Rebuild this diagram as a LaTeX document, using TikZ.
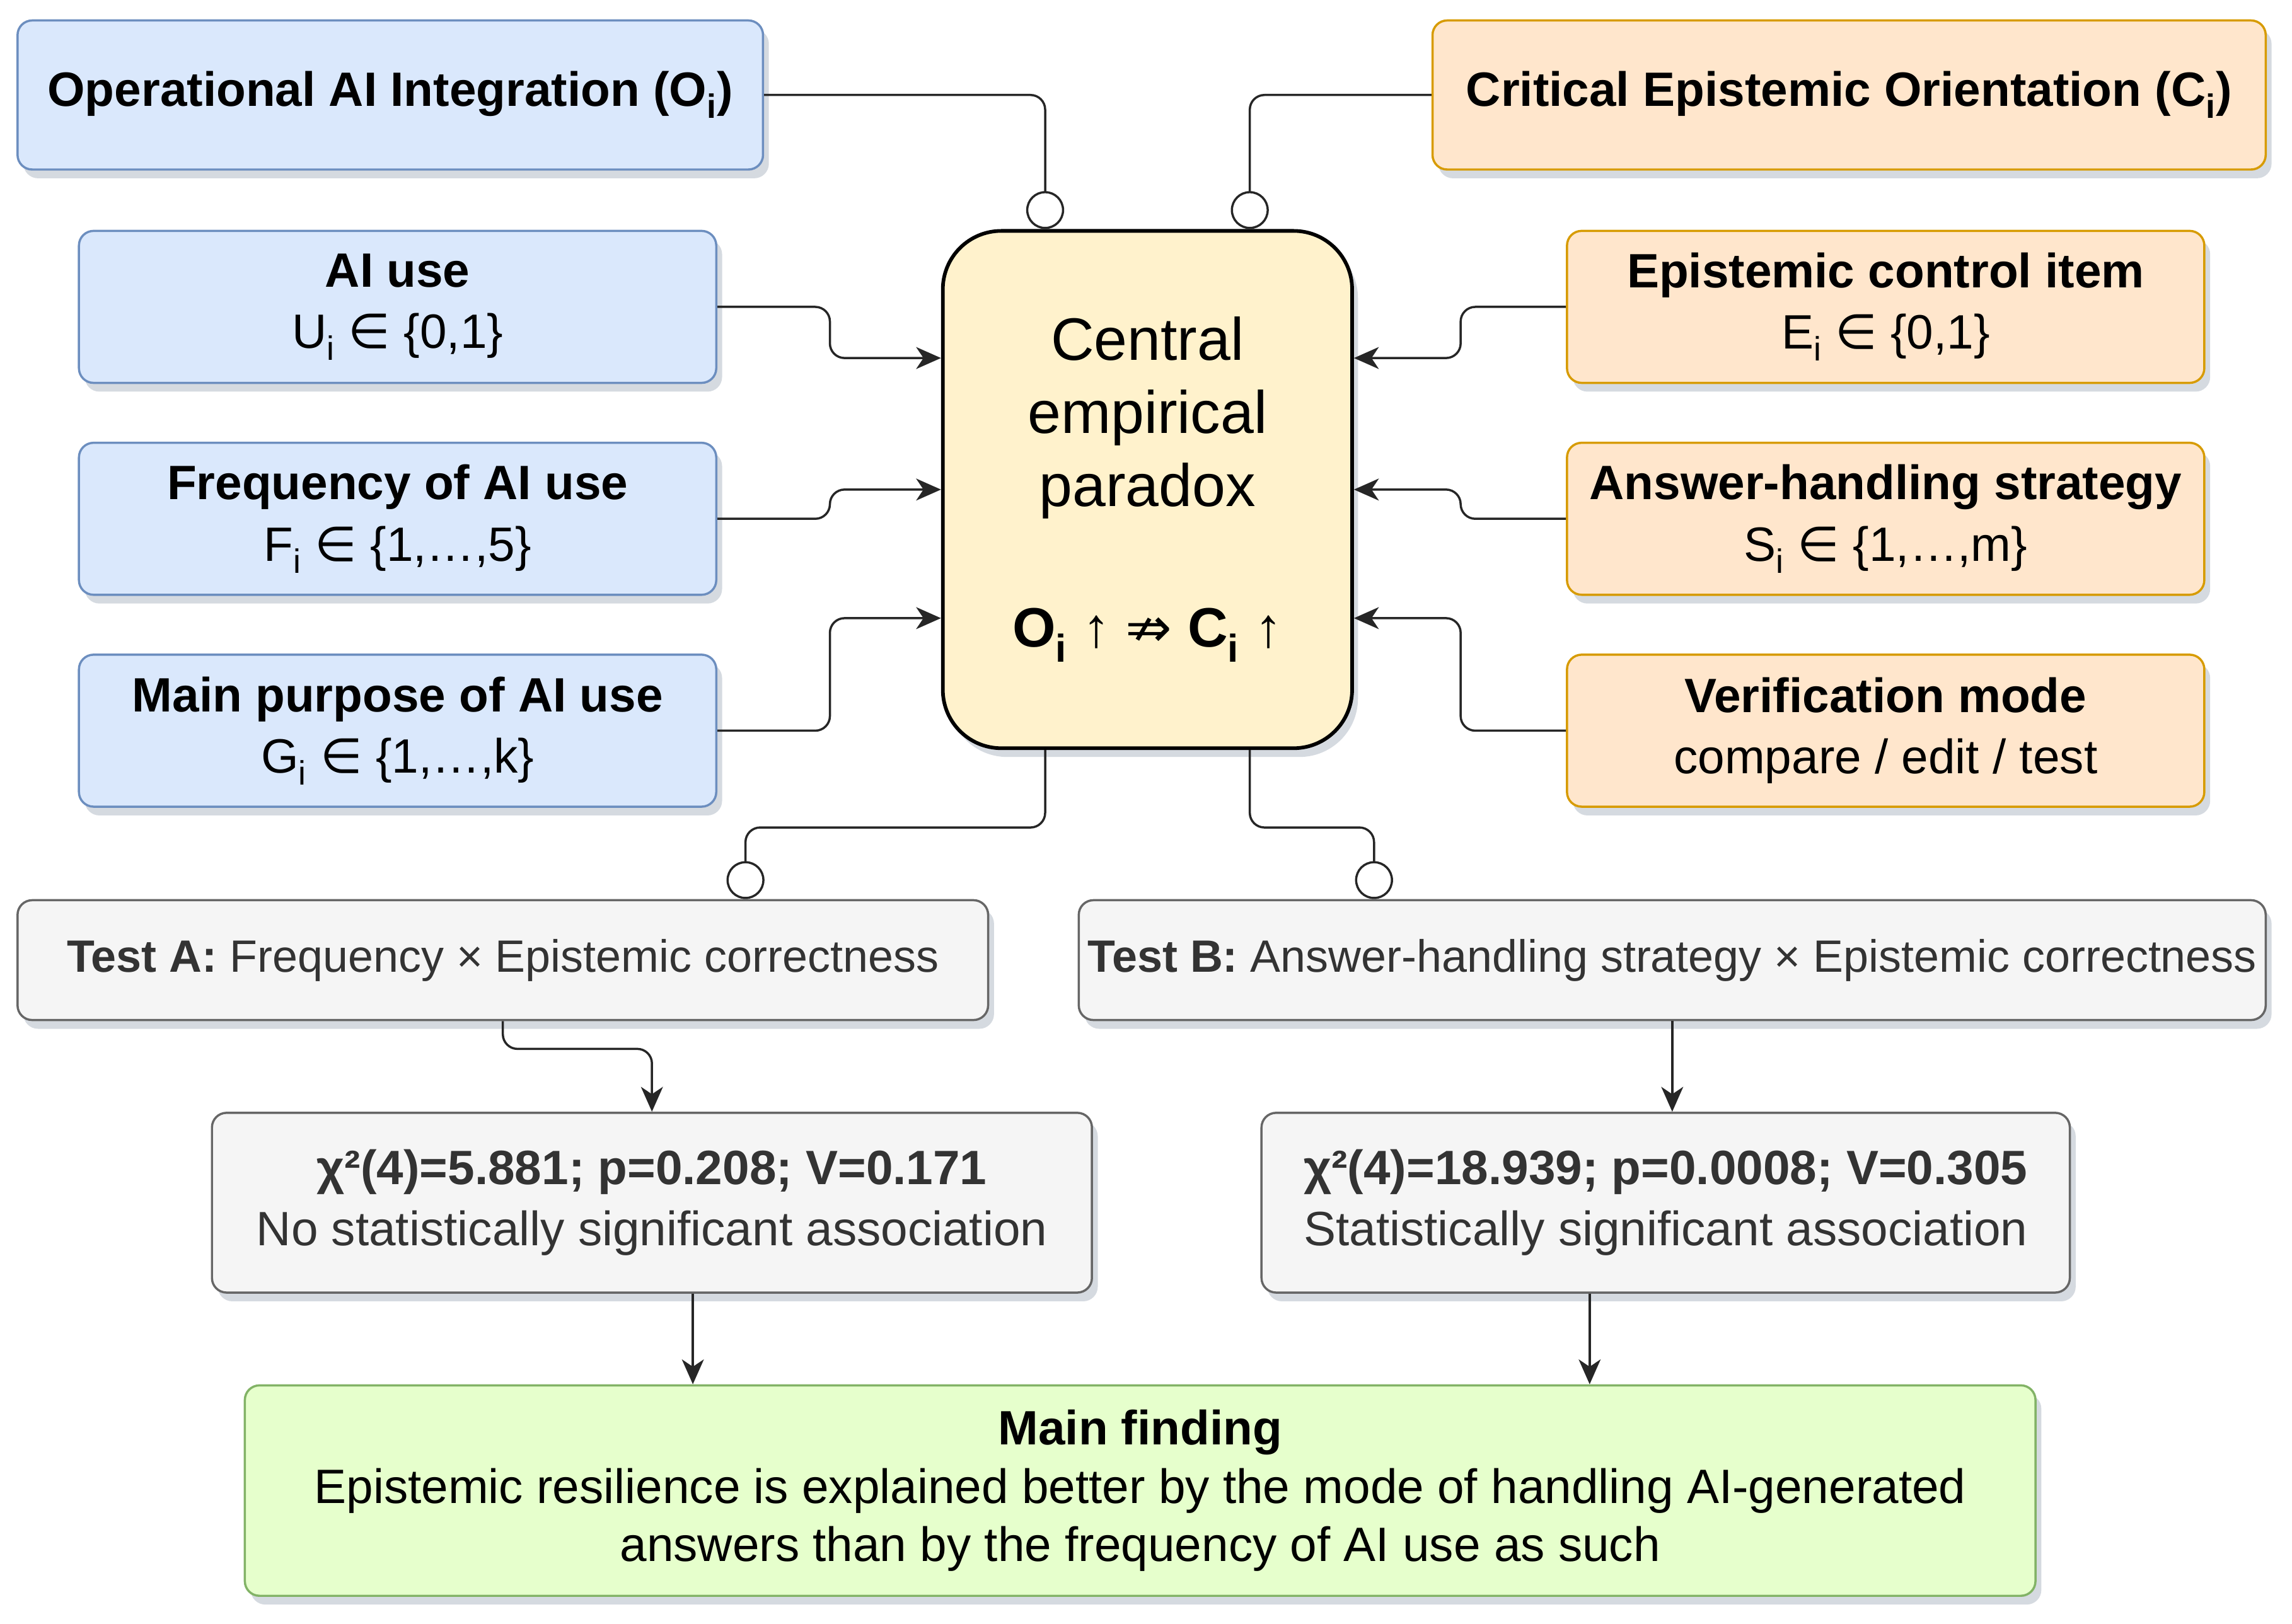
\documentclass[tikz,border=0pt]{standalone}
\usepackage{fontspec}
\setmainfont{Liberation Sans}
\newfontfamily\symf{DejaVu Sans}
\usetikzlibrary{arrows.meta,shadows}
\definecolor{blueF}{HTML}{DAE8FC}
\definecolor{blueD}{HTML}{6C8EBF}
\definecolor{orangeF}{HTML}{FFE6CC}
\definecolor{orangeD}{HTML}{D79B00}
\definecolor{yellowF}{HTML}{FFF2CC}
\definecolor{grayF}{HTML}{F5F5F5}
\definecolor{grayD}{HTML}{666666}
\definecolor{greenF}{HTML}{E6FFCC}
\definecolor{greenD}{HTML}{82B366}
\tikzset{
    box/.style={rounded corners=10pt,line width=1.5pt,align=center,inner sep=0pt,
                font=\fontsize{33}{42}\selectfont,
                drop shadow={shadow xshift=4pt,shadow yshift=-6pt,opacity=0.22,fill=blueD!60!black}},
    blbox/.style={box,fill=blueF,draw=blueD,minimum width=436pt,minimum height=104pt},
    orbox/.style={box,fill=orangeF,draw=orangeD,minimum width=436pt,minimum height=104pt},
    grbox/.style={box,fill=grayF,draw=grayD,text=black!80},
    conn/.style={line width=1.5pt,rounded corners=10pt,black!85},
    arr/.style={conn,-{Stealth[length=17pt,width=15pt,inset=5pt]}},
    circ/.style={conn,-{Circle[open,length=26pt,width=26pt]}}
}
\begin{document}
\begin{tikzpicture}[x=1pt,y=-1pt]
    \useasboundingbox (0,0) rectangle (1568,1111);
    % top row
    \node[box,fill=blueF,draw=blueD,minimum width=510pt,minimum height=102pt] (oi) at (267,65)
        {\textbf{Operational AI Integration (O\textsubscript{i})}};
    \node[box,fill=orangeF,draw=orangeD,minimum width=570pt,minimum height=102pt] (ci) at (1265,65)
        {\textbf{Critical Epistemic Orientation (C\textsubscript{i})}};
    % center
    \node[box,fill=yellowF,draw=black,line width=2.5pt,rounded corners=40pt,
          minimum width=280pt,minimum height=354pt,font=\fontsize{41}{50}\selectfont] (central) at (785,335)
        {Central\\empirical\\paradox\\[46pt]
         {\fontsize{38}{46}\selectfont\textbf{O\textsubscript{i}} ↑ {\symf ⇏} \textbf{C\textsubscript{i}} ↑}};
    % left side
    \node[blbox] (aiuse) at (272,210) {\textbf{AI use}\\U\textsubscript{i} {\symf ∈} \{0,1\}};
    \node[blbox] (freq) at (272,355) {\textbf{Frequency of AI use}\\F\textsubscript{i} {\symf ∈} \{1,…,5\}};
    \node[blbox] (purp) at (272,500) {\textbf{Main purpose of AI use}\\G\textsubscript{i} {\symf ∈} \{1,…,k\}};
    % right side
    \node[orbox] (epi) at (1290,210) {\textbf{Epistemic control item}\\E\textsubscript{i} {\symf ∈} \{0,1\}};
    \node[orbox] (ans) at (1290,355) {\textbf{Answer-handling strategy}\\S\textsubscript{i} {\symf ∈} \{1,…,m\}};
    \node[orbox] (ver) at (1290,500) {\textbf{Verification mode}\\compare / edit / test};
    % tests
    \node[grbox,minimum width=664pt,minimum height=82pt,font=\fontsize{31}{40}\selectfont] (testa) at (344,657)
        {\textbf{Test A:} Frequency × Epistemic correctness};
    \node[grbox,minimum width=812pt,minimum height=82pt,font=\fontsize{31}{40}\selectfont] (testb) at (1144,657)
        {\textbf{Test B:} Answer-handling strategy × Epistemic correctness};
    \node[grbox,minimum width=602pt,minimum height=123pt] (resa) at (446,823)
        {\textbf{χ²(4)=5.881; p=0.208; V=0.171}\\No statistically significant association};
    \node[grbox,minimum width=553pt,minimum height=123pt] (resb) at (1139.5,823)
        {\textbf{χ²(4)=18.939; p=0.0008; V=0.305}\\Statistically significant association};
    % result
    \node[box,fill=greenF,draw=greenD,minimum width=1225pt,minimum height=144pt,
          font=\fontsize{33}{40}\selectfont] (main) at (780,1020)
        {\textbf{Main finding}\\Epistemic resilience is explained better by the mode of handling AI-generated\\answers than by the frequency of AI use as such};

    \draw[circ] (oi.east) -| ([xshift=-70pt]central.north);
    \draw[circ] (ci.west) -| ([xshift=70pt]central.north);
    \draw[arr] (aiuse.east) -- ++(77,0) |- ([yshift=90pt]central.west);
    \draw[arr] (freq.east) -- ++(77,0) |- (central.west);
    \draw[arr] (purp.east) -- ++(77,0) |- ([yshift=-88pt]central.west);
    \draw[arr] (epi.west) -- ++(-72,0) |- ([yshift=90pt]central.east);
    \draw[arr] (ans.west) -- ++(-72,0) |- (central.east);
    \draw[arr] (ver.west) -- ++(-72,0) |- ([yshift=-88pt]central.east);
    \draw[circ] ([xshift=-70pt]central.south) -- ++(0,53) -| ([xshift=166pt]testa.north);
    \draw[circ] ([xshift=70pt]central.south) -- ++(0,53) -| ([xshift=-204pt]testb.north);
    \draw[arr] (testa.south) -- ++(0,19) -| (resa.north);
    \draw[arr] (testb.south) -- (testb.south |- resb.north);
    \draw[arr] ([xshift=28pt]resa.south) coordinate (fa) -- (fa |- main.north);
    \draw[arr] ([xshift=-52pt]resb.south) coordinate (fb) -- (fb |- main.north);
\end{tikzpicture}
\end{document}
